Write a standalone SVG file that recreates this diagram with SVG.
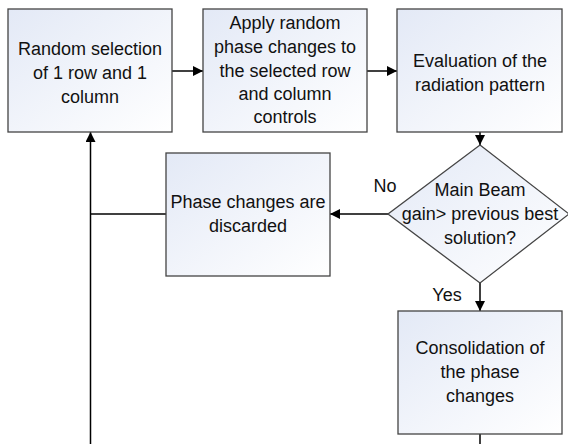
<svg xmlns="http://www.w3.org/2000/svg" width="568" height="444" viewBox="0 0 568 444">
<defs>
<linearGradient id="g" x1="0" y1="0" x2="1" y2="1">
<stop offset="0" stop-color="#e3e9f6"/>
<stop offset="1" stop-color="#ffffff"/>
</linearGradient>
<marker id="ah" viewBox="0 0 10 10" refX="10" refY="5" markerWidth="10" markerHeight="10" markerUnits="userSpaceOnUse" orient="auto">
<path d="M0,0 L10,5 L0,10 z" fill="#000"/>
</marker>
</defs>
<style>
.n{fill:url(#g);stroke:#444;stroke-width:1.3}
.t{font-family:"Liberation Sans",Arial,sans-serif;font-size:18px;fill:#111;text-anchor:middle}
.c{fill:none;stroke:#000;stroke-width:1.5}
</style>
<rect width="568" height="444" fill="#fff"/>
<g id="connectors">
<line class="c" x1="172" y1="71" x2="203" y2="71" marker-end="url(#ah)"/>
<line class="c" x1="367" y1="71" x2="397" y2="71" marker-end="url(#ah)"/>
<line class="c" x1="480" y1="132" x2="480" y2="145" marker-end="url(#ah)"/>
<line class="c" x1="388" y1="214" x2="330" y2="214" marker-end="url(#ah)"/>
<line class="c" x1="480" y1="283" x2="480" y2="311" marker-end="url(#ah)"/>
<polyline class="c" points="480,434 480,444"/>
<line class="c" x1="166" y1="214" x2="90.5" y2="214"/>
<line class="c" x1="90.5" y1="444" x2="90.5" y2="132" marker-end="url(#ah)"/>
<text class="t" x="385" y="192">No</text>
<text class="t" x="447" y="301">Yes</text>
</g>
<g id="n1">
<rect class="n" x="8" y="9" width="164" height="123"/>
<text class="t" x="90" y="55">Random selection</text>
<text class="t" x="90" y="79">of 1 row and 1</text>
<text class="t" x="90" y="103">column</text>
</g>
<g id="n2">
<rect class="n" x="203" y="9" width="164" height="123"/>
<text class="t" x="285" y="29">Apply random</text>
<text class="t" x="285" y="53">phase changes to</text>
<text class="t" x="285" y="77">the selected row</text>
<text class="t" x="285" y="100">and column</text>
<text class="t" x="285" y="123">controls</text>
</g>
<g id="n3">
<rect class="n" x="397" y="9" width="165" height="123"/>
<text class="t" x="480" y="67">Evaluation of the</text>
<text class="t" x="480" y="91">radiation pattern</text>
</g>
<g id="n4">
<polygon class="n" points="480,145 569,214 480,283 388,214"/>
<text class="t" x="480" y="196">Main Beam</text>
<text class="t" x="480" y="220">gain&gt; previous best</text>
<text class="t" x="480" y="244">solution?</text>
</g>
<g id="n5">
<rect class="n" x="166" y="153" width="164" height="123"/>
<text class="t" x="248" y="208">Phase changes are</text>
<text class="t" x="248" y="232">discarded</text>
</g>
<g id="n6">
<rect class="n" x="398" y="311" width="164" height="123"/>
<text class="t" x="480" y="354">Consolidation of</text>
<text class="t" x="480" y="378">the phase</text>
<text class="t" x="480" y="402">changes</text>
</g>
</svg>
